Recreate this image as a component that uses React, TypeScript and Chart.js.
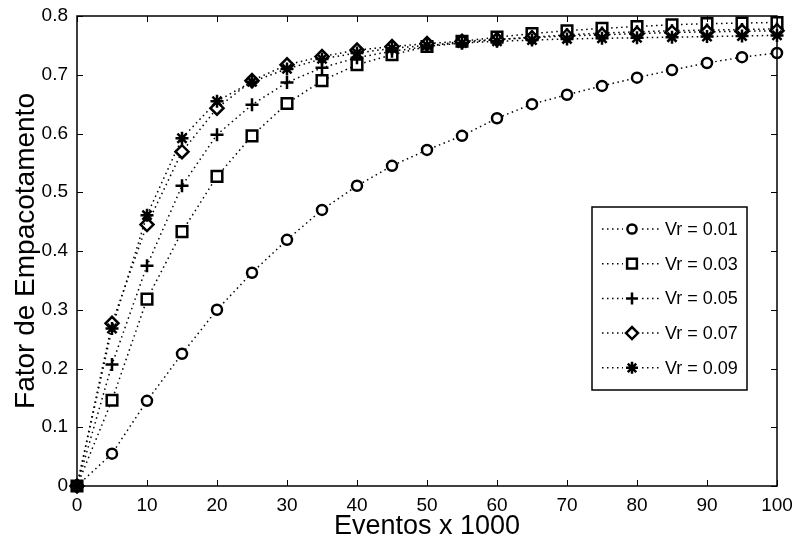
import React, { useEffect, useRef } from "react";
import { Chart, registerables } from "chart.js";
import { drawPoint } from "chart.js/helpers";

Chart.register(...registerables);

// Events (thousands)
const EVENTOS = [0, 5, 10, 15, 20, 25, 30, 35, 40, 45, 50, 55, 60, 65, 70, 75, 80, 85, 90, 95, 100];

// Packing factor for each relative velocity Vr
const VR_001 = [0, 0.055, 0.145, 0.225, 0.3, 0.363, 0.419, 0.47, 0.511, 0.545, 0.572, 0.596, 0.626, 0.65, 0.666, 0.681, 0.695, 0.708, 0.72, 0.73, 0.737];
const VR_003 = [0, 0.146, 0.318, 0.433, 0.527, 0.596, 0.651, 0.69, 0.717, 0.734, 0.748, 0.757, 0.764, 0.77, 0.775, 0.779, 0.782, 0.785, 0.787, 0.788, 0.789];
const VR_005 = [0, 0.207, 0.375, 0.511, 0.598, 0.649, 0.687, 0.712, 0.729, 0.74, 0.748, 0.754, 0.76, 0.764, 0.768, 0.771, 0.773, 0.775, 0.776, 0.777, 0.778];
const VR_007 = [0, 0.277, 0.445, 0.569, 0.643, 0.69, 0.717, 0.731, 0.742, 0.748, 0.753, 0.757, 0.76, 0.763, 0.766, 0.768, 0.77, 0.772, 0.773, 0.774, 0.775];
const VR_009 = [0, 0.268, 0.461, 0.592, 0.655, 0.688, 0.71, 0.727, 0.737, 0.745, 0.75, 0.754, 0.757, 0.759, 0.761, 0.762, 0.763, 0.764, 0.765, 0.766, 0.767];

const SERIES_LABELS = ["Vr = 0.01", "Vr = 0.03", "Vr = 0.05", "Vr = 0.07", "Vr = 0.09"];
const SERIES_VALUES = [VR_001, VR_003, VR_005, VR_007, VR_009];
const SERIES_MARKERS = ["circle", "rect", "cross", "rectRot", "star"];
const SERIES_RADII = [5, 7.5, 6.5, 6.5, 6.5];

const X_TICKS = [0, 10, 20, 30, 40, 50, 60, 70, 80, 90, 100];
const Y_TICKS = [0, 0.1, 0.2, 0.3, 0.4, 0.5, 0.6, 0.7, 0.8];

const NARROW = "'Liberation Sans Narrow', 'Liberation Sans', Arial, sans-serif";
const REGULAR = "'Liberation Sans', Arial, sans-serif";
const DOTS = [1.5, 3.5];

// Box around the axes plus short inward ticks on all four sides
const frameTicks = {
  id: "frameTicks",
  afterDatasetsDraw(chart: any) {
    const { ctx, chartArea: a, scales } = chart;
    const len = 6;
    ctx.save();
    ctx.strokeStyle = "#000";
    ctx.lineWidth = 1;
    ctx.beginPath();
    for (const v of X_TICKS) {
      const px = Math.round(scales.x.getPixelForValue(v)) + 0.5;
      ctx.moveTo(px, a.bottom);
      ctx.lineTo(px, a.bottom - len);
      ctx.moveTo(px, a.top);
      ctx.lineTo(px, a.top + len);
    }
    for (const v of Y_TICKS) {
      const py = Math.round(scales.y.getPixelForValue(v)) + 0.5;
      ctx.moveTo(a.left, py);
      ctx.lineTo(a.left + len, py);
      ctx.moveTo(a.right, py);
      ctx.lineTo(a.right - len, py);
    }
    ctx.stroke();
    ctx.lineWidth = 1.5;
    ctx.strokeRect(a.left, a.top, a.right - a.left, a.bottom - a.top);
    ctx.restore();
  },
};

// Legend box drawn inside the plot area
const insideLegend = {
  id: "insideLegend",
  afterDraw(chart: any) {
    const { ctx, chartArea: a } = chart;
    const w = 155;
    const h = 183;
    const x0 = a.right - 30 - w;
    const y0 = a.top + 191;
    ctx.save();
    ctx.fillStyle = "#fff";
    ctx.fillRect(x0, y0, w, h);
    ctx.strokeStyle = "#000";
    ctx.lineWidth = 1.5;
    ctx.strokeRect(x0, y0, w, h);
    ctx.font = `18px ${NARROW}`;
    ctx.textBaseline = "middle";
    ctx.textAlign = "left";
    chart.data.datasets.forEach((ds: any, i: number) => {
      const y = y0 + 22 + i * 34.7;
      ctx.setLineDash(DOTS);
      ctx.lineWidth = 1.5;
      ctx.strokeStyle = "#000";
      ctx.beginPath();
      ctx.moveTo(x0 + 10, y);
      ctx.lineTo(x0 + 67, y);
      ctx.stroke();
      ctx.setLineDash([]);
      ctx.fillStyle = "#fff";
      ctx.fillRect(x0 + 31, y - 9, 18, 18);
      ctx.fillStyle = ds.pointStyle === "star" ? "#000" : "#fff";
      ctx.strokeStyle = "#000";
      ctx.lineWidth = 2.5;
      drawPoint(ctx, { pointStyle: ds.pointStyle, radius: ds.pointRadius * 0.92, rotation: 0, borderWidth: 2.5 }, x0 + 40, y);
      ctx.fillStyle = "#000";
      ctx.fillText(ds.label, x0 + 73, y + 1);
    });
    ctx.restore();
  },
};

export default function App() {
  const ref = useRef<HTMLCanvasElement>(null);

  useEffect(() => {
    if (!ref.current) return;
    const datasets = SERIES_VALUES.map((vals, i) => ({
      label: SERIES_LABELS[i],
      data: vals.map((v, j) => ({ x: EVENTOS[j], y: v })),
      borderColor: "#000",
      borderWidth: 1.5,
      borderDash: DOTS,
      backgroundColor: "#fff",
      pointStyle: SERIES_MARKERS[i],
      pointRadius: SERIES_RADII[i],
      pointBorderColor: "#000",
      pointBackgroundColor: SERIES_MARKERS[i] === "star" ? "#000" : "#fff",
      pointBorderWidth: 2.5,
      tension: 0,
      clip: false as any,
      order: SERIES_VALUES.length - i,
    }));

    const chart = new Chart(ref.current, {
      type: "line",
      data: { datasets },
      options: {
        animation: false,
        responsive: false,
        devicePixelRatio: 1,
        layout: { padding: { left: 0, right: 15, top: 16, bottom: 0 } },
        plugins: { legend: { display: false }, tooltip: { enabled: false } },
        scales: {
          x: {
            type: "linear",
            min: 0,
            max: 100,
            afterBuildTicks: (s: any) => {
              s.ticks = X_TICKS.map((v) => ({ value: v }));
            },
            afterFit: (s: any) => {
              s.height = 57;
              s.paddingLeft = 0;
              s.paddingRight = 0;
            },
            grid: { display: false, drawTicks: false },
            border: { display: false },
            ticks: {
              color: "#000",
              padding: 8,
              maxRotation: 0,
              font: { family: NARROW, size: 19 },
            },
            title: {
              display: true,
              text: "Eventos x 1000",
              color: "#000",
              font: { family: REGULAR, size: 27 },
              padding: { top: 0, bottom: 0 },
            },
          },
          y: {
            type: "linear",
            min: 0,
            max: 0.8,
            afterBuildTicks: (s: any) => {
              s.ticks = Y_TICKS.map((v) => ({ value: v }));
            },
            afterFit: (s: any) => {
              s.width = 77;
              s.paddingTop = 0;
              s.paddingBottom = 0;
            },
            grid: { display: false, drawTicks: false },
            border: { display: false },
            ticks: {
              color: "#000",
              padding: 9,
              font: { family: NARROW, size: 19 },
              callback: (v: any) => String(Math.round(Number(v) * 10) / 10),
            },
            title: {
              display: true,
              text: "Fator de Empacotamento",
              color: "#000",
              font: { family: REGULAR, size: 28 },
              padding: { top: 9, bottom: 0 },
            },
          },
        },
      },
      plugins: [frameTicks, insideLegend],
    });
    return () => chart.destroy();
  }, []);

  return (
    <div style={{ position: "fixed", left: 0, top: 0, width: 792, height: 543, background: "#fff" }}>
      <canvas ref={ref} width={792} height={543} style={{ display: "block" }} />
    </div>
  );
}
